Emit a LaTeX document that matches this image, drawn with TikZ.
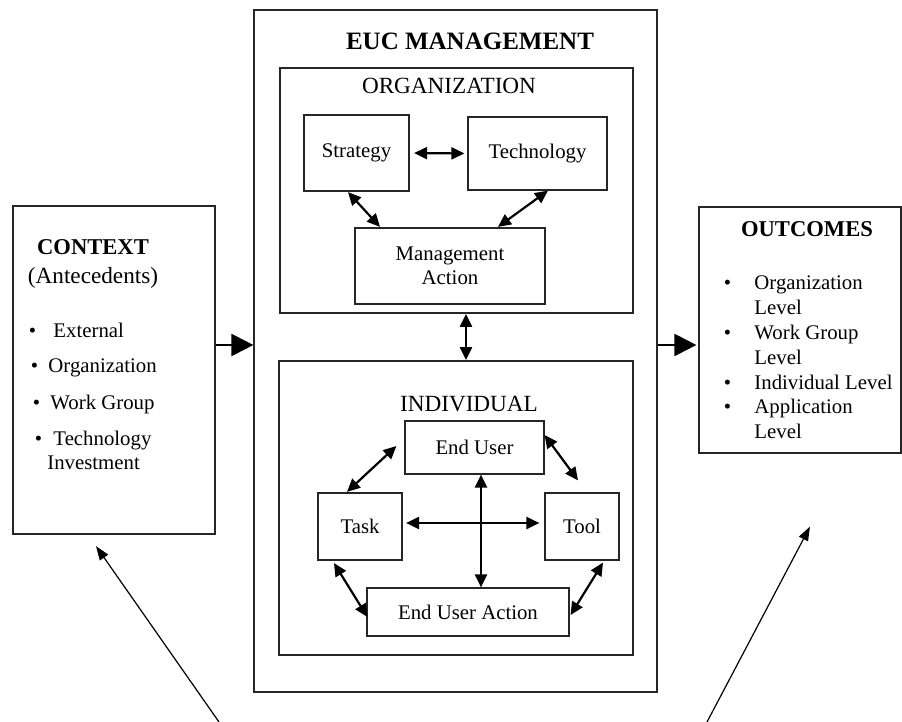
\documentclass[tikz,border=0pt]{standalone}
\usepackage{fontspec}
\setmainfont{Liberation Serif}
\usetikzlibrary{arrows.meta,calc}

\begin{document}
\begin{tikzpicture}[x=0.5pt,y=-0.5pt,font=\fontsize{10.4}{12}\selectfont,
	box/.style={draw=black!85,line width=0.6pt,inner sep=0pt,align=center},
	thickbox/.style={box,line width=1.1pt},
	head/.style={anchor=base,inner sep=0pt,font=\fontsize{11.6}{13}\selectfont},
	boldhead/.style={anchor=base,inner sep=0pt,font=\fontsize{11.3}{13}\selectfont\bfseries},
	item/.style={anchor=base west,inner sep=0pt,align=left},
	dbl/.style={{Triangle[length=6.5pt,width=6pt]}-{Triangle[length=6.5pt,width=6pt]},line width=1.1pt},
	flow/.style={-{Triangle[length=11pt,width=11pt]},line width=1.1pt},
	back/.style={-{Triangle[length=7pt,width=5pt]},line width=0.6pt}]
	\useasboundingbox (0,0) rectangle (902,722);
	\node[box,minimum width=201.5pt,minimum height=341pt] (euc) at (455.5,351) {};
	\node[box,line width=0.9pt,minimum width=176.5pt,minimum height=122.5pt] (org) at (456.5,190.5) {};
	\node[box,line width=0.9pt,minimum width=177pt,minimum height=147pt] (ind) at (456,508) {};
	\node[anchor=base,inner sep=0pt,font=\fontsize{12.5}{14}\selectfont\bfseries] (euctitle) at (470,50) {EUC MANAGEMENT};
	\node[head] (orgtitle) at (449,94) {ORGANIZATION};
	\node[head] (indtitle) at (469,412) {INDIVIDUAL};
	\node[thickbox,minimum width=52.5pt,minimum height=38pt] (strat) at (356.5,153) {Strategy};
	\node[box,minimum width=69.5pt,minimum height=36.5pt] (tech) at (537.5,153.5) {Technology};
	\node[thickbox,minimum width=95pt,minimum height=38pt] (mgmt) at (450,266) {Management\\Action};
	\node[box,minimum width=69.5pt,minimum height=26.5pt] (enduser) at (474.5,447.5) {End User};
	\node[thickbox,minimum width=42pt,minimum height=33.5pt] (task) at (360,526.5) {Task};
	\node[box,minimum width=37pt,minimum height=33.5pt] (tool) at (582,526.5) {Tool};
	\node[box,minimum width=101pt,minimum height=24pt] (eua) at (468,612) {End User Action};
	\node[thickbox,minimum width=101pt,minimum height=164pt] (context) at (114,370) {};
	\node[boldhead] (ctxtitle) at (93,255) {CONTEXT};
	\node[head] (ctxsub) at (93,284) {(Antecedents)};
	\node[item] (ctxext) at (28.4,338) {\textbullet\hspace{8.7pt}External};
	\node[item] (ctxorg) at (30.4,373) {\textbullet\hspace{5.2pt}Organization};
	\node[item] (ctxwg) at (32.4,410) {\textbullet\hspace{5.2pt}Work Group};
	\node[item] (ctxtech) at (34.4,470) {\textbullet\hspace{5.7pt}Technology\\\hspace*{6.3pt}Investment};
	\node[box,minimum width=101pt,minimum height=123pt] (outcomes) at (800,330) {};
	\node[boldhead] (outtitle) at (807,237) {OUTCOMES};
	\node[item] (outlist) at (723.4,290) {\fontsize{10.4}{12.4}\selectfont
		\begin{tabular}[t]{@{}l@{\hspace{11.7pt}}l@{}}
			\textbullet & Organization\\ & Level\\
			\textbullet & Work Group\\ & Level\\
			\textbullet & Individual Level\\
			\textbullet & Application\\ & Level
		\end{tabular}};
	\draw[dbl,shorten <=2pt,shorten >=1.5pt] (strat.east) -- (tech.west);
	\draw[dbl] ($(strat.south)+(-8.5,0)$) -- ($(mgmt.north)+(-70,0)$);
	\draw[dbl] ($(tech.south)+(10.5,0)$) -- ($(mgmt.north)+(48,0)$);
	\draw[dbl] ($(org.south)+(9.5,0)$) -- ($(ind.north)+(10,0)$);
	\draw[dbl] ($(task.north)+(-13,0)$) -- ($(enduser.west)+(-8,-1.5)$);
	\draw[dbl] ($(enduser.east)+(0,-12.5)$) -- ($(tool.north)+(-4,-12)$);
	\draw[dbl] ($(task.south)+(-26,2)$) -- ($(eua.west)+(1,5)$);
	\draw[dbl] ($(tool.south)+(21,2)$) -- ($(eua.east)+(1,3)$);
	\draw[dbl] ($(task.east)+(3,-3.5)$) -- ($(tool.west)+(-5,-3.5)$);
	\draw[dbl] ($(enduser.south)+(6.5,0)$) -- ($(eua.north)+(13,0)$);
	\draw[flow] ($(context.east)+(0,-25)$) -- ($(euc.west)+(0,-6)$);
	\draw[flow] ($(euc.east)+(0,-6)$) -- ($(outcomes.west)+(-2,15)$);
	\coordinate (lowleft) at (219,722);
	\coordinate (lowright) at (707,722);
	\draw[back] (lowleft) -- ($(context.south)+(-18,11)$);
	\draw[back] (lowright) -- ($(outcomes.south)+(10,73)$);
\end{tikzpicture}
\end{document}
